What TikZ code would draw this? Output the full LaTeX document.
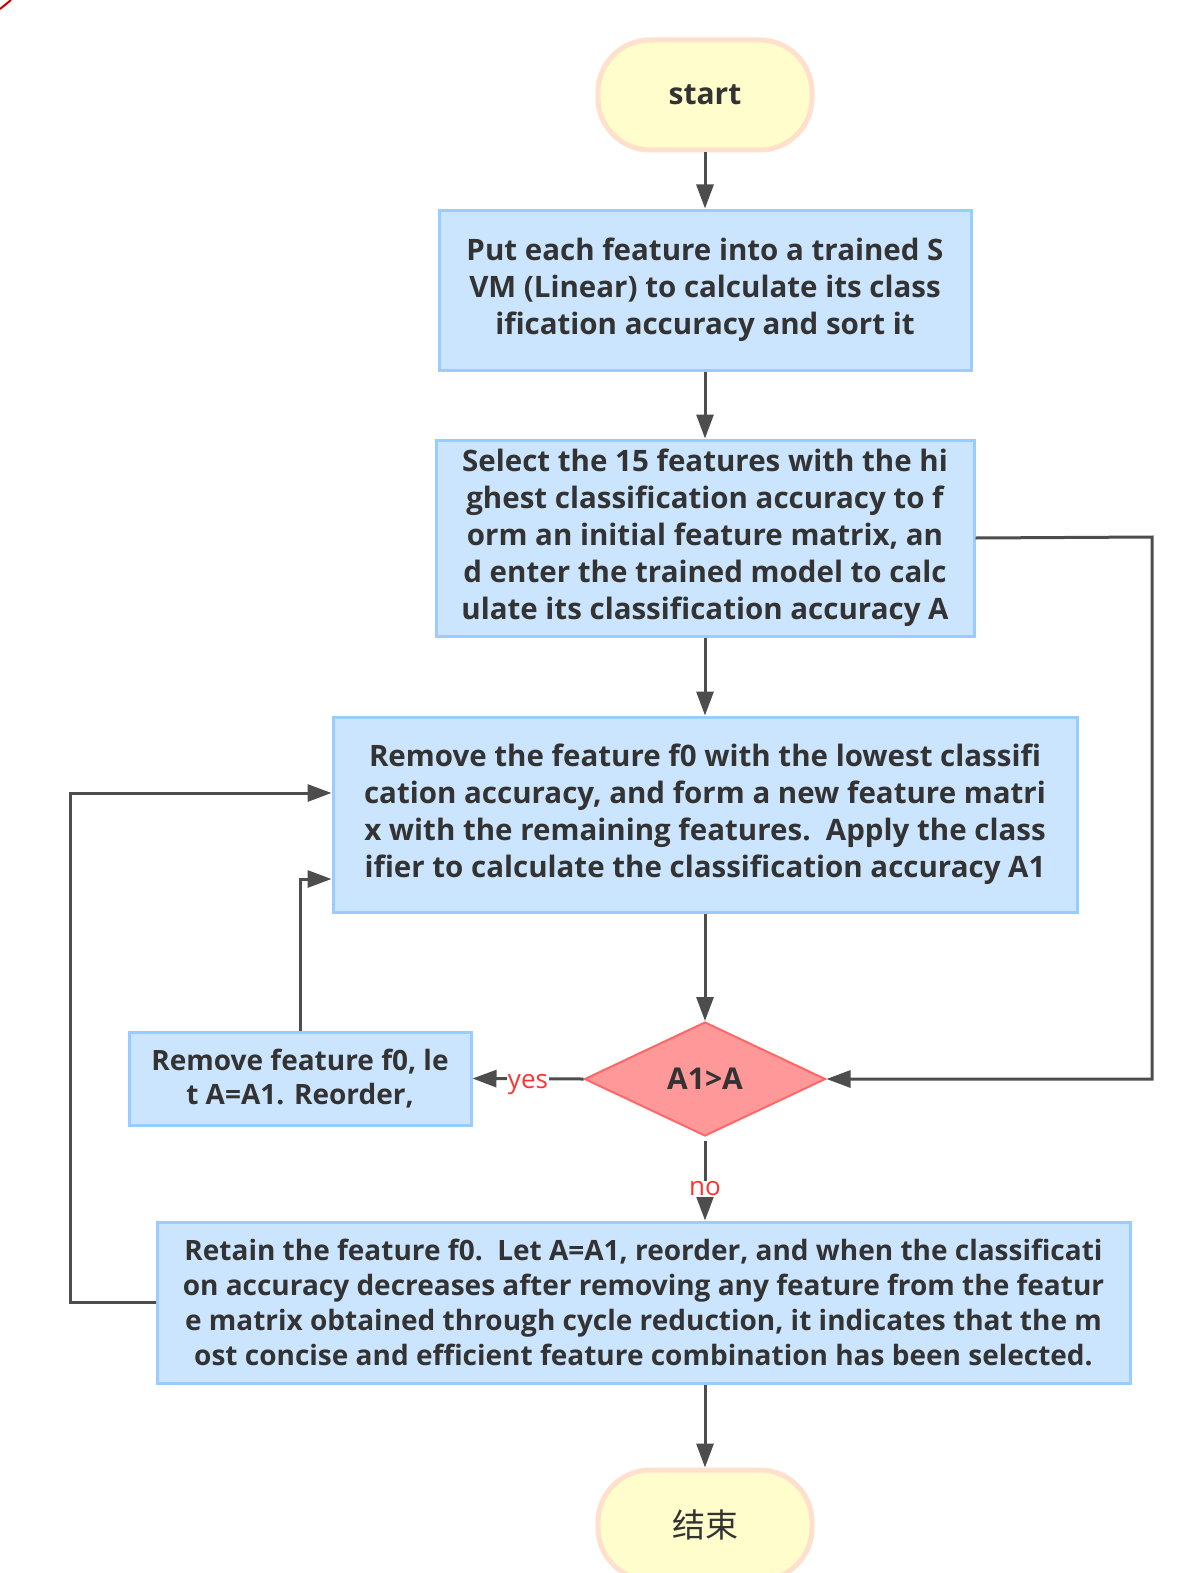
\documentclass[tikz,border=0pt]{standalone}
\usepackage{fontspec}
\setmainfont{Open Sans}
\newfontfamily\cjk{Noto Sans CJK SC}
\usetikzlibrary{arrows.meta,shapes.geometric,calc}
\definecolor{boxfill}{HTML}{CCE5FF}
\definecolor{boxline}{HTML}{99CCFF}
\definecolor{decfill}{HTML}{FF9999}
\definecolor{decline}{HTML}{FF6666}
\definecolor{pillfill}{HTML}{FFFDCC}
\definecolor{pillline}{HTML}{FFE0CC}
\definecolor{txt}{HTML}{333333}
\definecolor{conncol}{HTML}{4D4D4D}
\definecolor{labred}{HTML}{FF3333}
\begin{document}
\begin{tikzpicture}[x=1pt,y=-1pt,
  proc/.style={draw=boxline, line width=3pt, fill=boxfill, text=txt, align=center, inner sep=0pt,
    font=\bfseries\fontsize{29.5}{37}\selectfont},
  pill/.style={draw=pillline, line width=5pt, fill=pillfill, rounded corners=52pt, text=txt,
    minimum width=214pt, minimum height=110pt, inner sep=0pt},
  dec/.style={diamond, draw=decline, line width=2pt, fill=decfill, text=txt, inner sep=0pt,
    minimum width=241pt, minimum height=114pt, font=\bfseries\fontsize{30}{34}\selectfont},
  conn/.style={draw=conncol, line width=3pt, -{Triangle[length=24pt,width=17pt]}},
  lab/.style={text=labred, fill=white, inner sep=1pt, font=\fontsize{26}{30}\selectfont}
]
\useasboundingbox (0,0) rectangle (1188,1573);
\draw[red!80!black, line width=2pt] (0,9) -- (11,0);

\node[pill, font=\bfseries\fontsize{30}{34}\selectfont] (start) at (705,95) {\raisebox{-3pt}{start}};
\node[proc, minimum width=532pt, minimum height=160pt] (b1) at (705,290)
  {Put each feature into a trained S\\VM (Linear) to calculate its class\\ification accuracy and sort it};
\node[proc, minimum width=538pt, minimum height=196pt] (b2) at (705,538)
  {Select the 15 features with the hi\\ghest classification accuracy to f\\orm an initial feature matrix, an\\d enter the trained model to calc\\ulate its classification accuracy A};
\node[proc, minimum width=744pt, minimum height=195pt] (b3) at (705,814.5)
  {Remove the feature f0 with the lowest classifi\\cation accuracy, and form a new feature matri\\x with the remaining features.\ \ Apply the class\\ifier to calculate the classification accuracy A1};
\node[dec] (d) at (705,1079) {\raisebox{-3pt}{A1>A}};
\node[proc, minimum width=342pt, minimum height=93pt, font=\bfseries\fontsize{28}{34}\selectfont] (b4) at (300,1078.5)
  {Remove feature f0, le\\t A=A1. Reorder,};
\node[proc, minimum width=973pt, minimum height=161pt, font=\bfseries\fontsize{28}{35}\selectfont] (b5) at (643.5,1302.5)
  {Retain the feature f0.\ \ Let A=A1, reorder, and when the classificati\\on accuracy decreases after removing any feature from the featur\\e matrix obtained through cycle reduction, it indicates that the m\\ost concise and efficient feature combination has been selected.};
\node[pill, font=\cjk\fontsize{33}{36}\selectfont] (end) at (705,1525) {结束};

\coordinate (r) at (1152,537);
\coordinate (lp) at (70,1302.5);

\draw[conn] (start) -- (b1);
\draw[conn] (b1) -- (b2);
\draw[conn] (b2) -- (b3);
\draw[conn] (b3) -- (d);
\draw[conn] (b2.east) -- (r) |- (d.east);
\draw[conn] (d.west) -- node[lab, midway, yshift=-6pt] {yes} (b4.east);
\draw[conn] ([yshift=-4pt]d.south) -- node[lab, midway, yshift=-8pt] {no} (d.south |- b5.north);
\draw[conn] (b4.north) |- ($(b3.west)+(0,64.5)$);
\draw[conn] (b5.west) -- (lp) |- ($(b3.west)+(0,-21.5)$);
\draw[conn] (end.north |- b5.south) -- (end);
\end{tikzpicture}
\end{document}
